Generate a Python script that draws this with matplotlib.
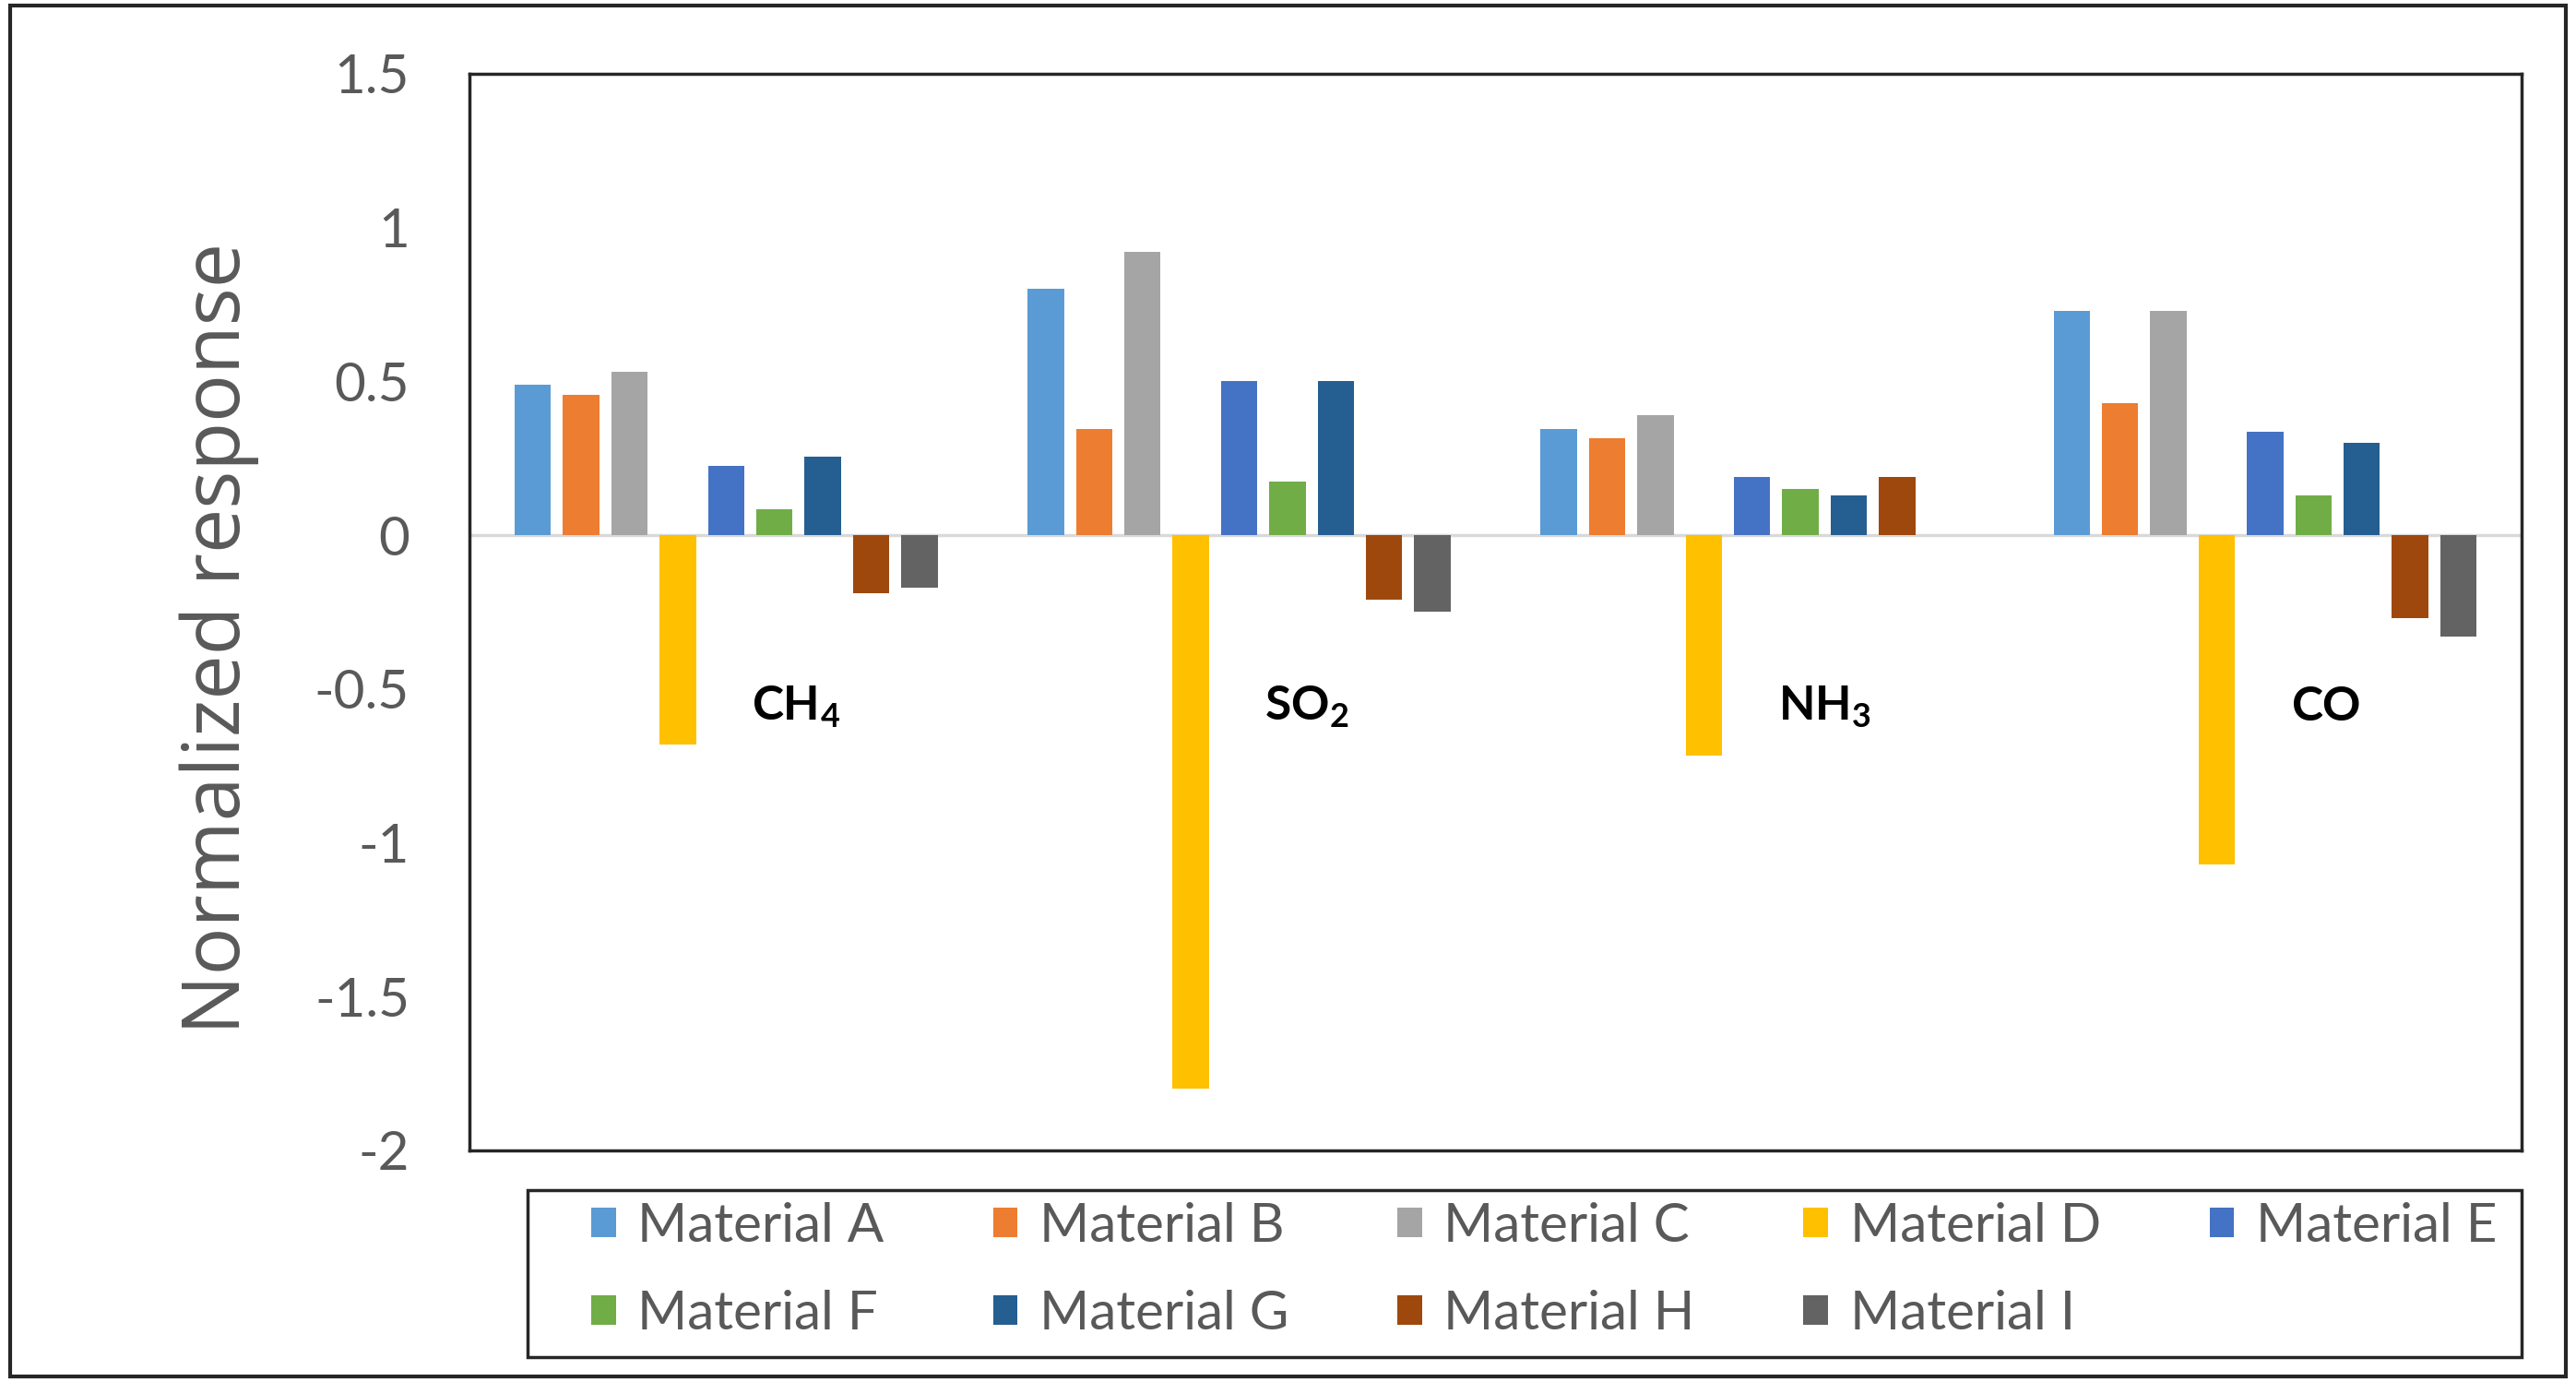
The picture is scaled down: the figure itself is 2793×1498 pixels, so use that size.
import matplotlib
matplotlib.use("Agg")
import matplotlib.pyplot as plt
from matplotlib.patches import Rectangle
import numpy as np

gases = [r"$\mathbf{CH_4}$", r"$\mathbf{SO_2}$", r"$\mathbf{NH_3}$", r"$\mathbf{CO}$"]
materials = ["Material A", "Material B", "Material C", "Material D", "Material E",
             "Material F", "Material G", "Material H", "Material I"]
colors = ["#5B9BD5", "#ED7D31", "#A5A5A5", "#FFC000", "#4472C4",
          "#70AD47", "#255E91", "#9E480E", "#636363"]

mat_a = [0.49, 0.80, 0.345, 0.73]
mat_b = [0.455, 0.345, 0.315, 0.43]
mat_c = [0.53, 0.92, 0.39, 0.73]
mat_d = [-0.68, -1.80, -0.715, -1.07]
mat_e = [0.225, 0.50, 0.19, 0.335]
mat_f = [0.085, 0.175, 0.15, 0.13]
mat_g = [0.255, 0.50, 0.13, 0.30]
mat_h = [-0.19, -0.21, 0.19, -0.27]
mat_i = [-0.17, -0.25, 0.0, -0.33]
series = [mat_a, mat_b, mat_c, mat_d, mat_e, mat_f, mat_g, mat_h, mat_i]

yticks = [-2, -1.5, -1, -0.5, 0, 0.5, 1, 1.5]
ytick_labels = ["-2", "-1.5", "-1", "-0.5", "0", "0.5", "1", "1.5"]

plt.rcParams["mathtext.fontset"] = "custom"
plt.rcParams["mathtext.rm"] = "Lato"
plt.rcParams["mathtext.bf"] = "Lato:bold"
plt.rcParams["font.family"] = ["Lato", "DejaVu Sans"]

W, H = 2793, 1498
fig = plt.figure(figsize=(W / 100, H / 100), dpi=100)
ax = fig.add_axes([0.1823, 0.1676, 0.9789 - 0.1823, 0.9466 - 0.1676])

slot = 0.0942
bw = 0.0707
x = np.arange(len(gases))
bars = []
for j, (vals, c, lab) in enumerate(zip(series, colors, materials)):
    b = ax.bar(x + (j - 4) * slot, vals, width=bw, color=c, label=lab, zorder=3)
    bars.append(b)

ax.axhline(0, color="#D9D9D9", lw=2.5, zorder=2)
ax.set_xlim(-0.5, 3.5)
ax.set_ylim(-2, 1.5)
ax.set_xticks([])
ax.set_yticks(yticks)
ax.set_yticklabels(ytick_labels)
ax.tick_params(axis="y", length=0, pad=47, labelsize=42, labelcolor="#595959")
for s in ax.spines.values():
    s.set_color("#262626")
    s.set_linewidth(2.5)

for i, g in enumerate(gases):
    ax.text(i + 0.05, -0.56, g, ha="left", va="center", fontsize=37, color="black")

fig.text(0.085, 0.538, "Normalized response", rotation=90, ha="center", va="center",
         fontsize=62, color="#595959", family=["Open Sans", "DejaVu Sans"])

# legend in row-major order (A..E on first row, F..I on second)
ncol = 5
order = []
for c in range(ncol):
    for r in range(2):
        k = r * ncol + c
        if k < len(materials):
            order.append(k)
leg = fig.legend(handles=[bars[k] for k in order], labels=[materials[k] for k in order],
                 ncol=ncol, bbox_to_anchor=(0.2296, 0.1305), loc="upper left",
                 frameon=False, fontsize=42, handlelength=0.46, handleheight=0.46,
                 handletextpad=0.4, borderaxespad=0, borderpad=0, labelspacing=0.73,
                 columnspacing=2.02)
for t in leg.get_texts():
    t.set_color("#595959")

fig.patches.append(Rectangle((0.2048, 0.018), 0.9789 - 0.2048, 0.1389 - 0.018,
                             transform=fig.transFigure, fill=False,
                             edgecolor="#262626", lw=2.5))
fig.patches.append(Rectangle((0.004, 0.004), 0.992, 0.992, transform=fig.transFigure,
                             fill=False, edgecolor="#262626", lw=3))

fig.savefig("out.png", dpi=100)
